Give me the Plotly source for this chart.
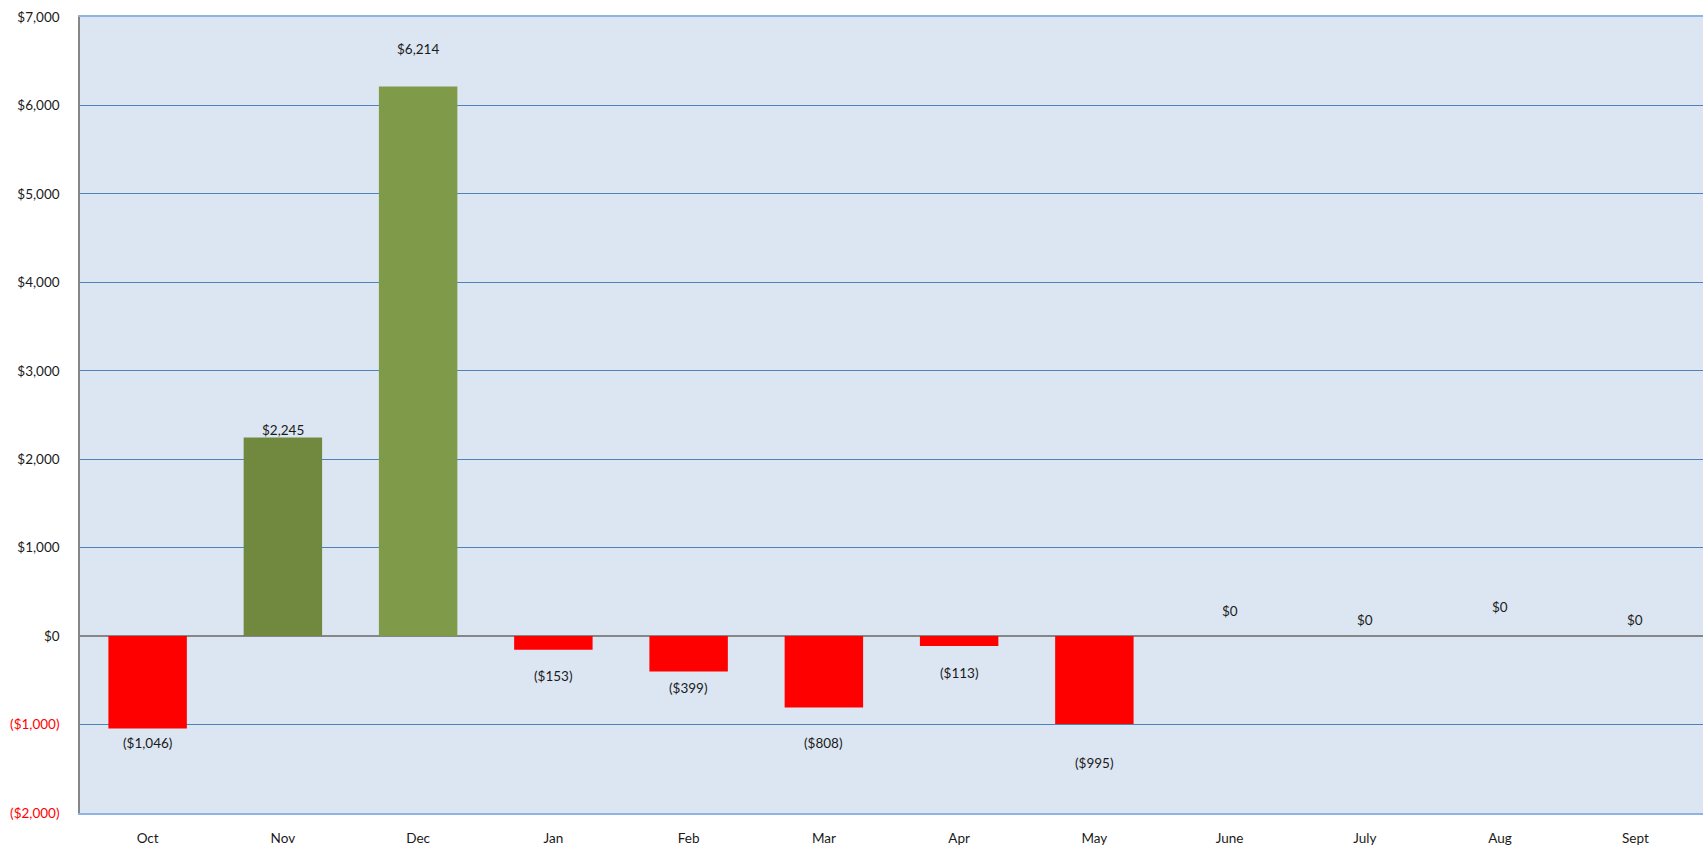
import plotly.graph_objects as go

# Monthly net result, fiscal year Oct -> Sept
months = ["Oct", "Nov", "Dec", "Jan", "Feb", "Mar", "Apr", "May", "June", "July", "Aug", "Sept"]
net = [-1046, 2245, 6214, -153, -399, -808, -113, -995, 0, 0, 0, 0]
bar_colors = ["#FF0000", "#71893F", "#7F9A48", "#FF0000", "#FF0000", "#FF0000",
              "#FF0000", "#FF0000", "#FF0000", "#FF0000", "#FF0000", "#FF0000"]
# vertical offset (px) of each value label from the end of its bar
label_offsets = [14, 8, 38, 26, 17, 35, 27, 39, 25, 16, 29, 16]
y_ticks = [-2000, -1000, 0, 1000, 2000, 3000, 4000, 5000, 6000, 7000]

FONT = "Lato, Calibri, sans-serif"
FONT_SIZE = 13.5


def money(v):
    s = f"${abs(v):,.0f}"
    return f"({s})" if v < 0 else s


def tick_label(v):
    s = money(v)
    return f"<span style='color:#FF0000'>{s}</span>" if v < 0 else s


fig = go.Figure(
    go.Bar(
        x=months,
        y=net,
        marker=dict(color=bar_colors, line=dict(width=0)),
        hoverinfo="x+y",
    )
)

for m, v, off in zip(months, net, label_offsets):
    fig.add_annotation(
        x=m, y=v, text=money(v), showarrow=False,
        yanchor="middle", yshift=off if v >= 0 else -off,
        font=dict(family=FONT, size=FONT_SIZE, color="#1a1a1a"),
    )

fig.update_layout(
    width=1706, height=848,
    margin=dict(l=80, r=3, t=17, b=35),
    paper_bgcolor="white",
    plot_bgcolor="#DCE6F2",
    bargap=0.42,
    showlegend=False,
    font=dict(family=FONT, size=FONT_SIZE, color="#1a1a1a"),
    xaxis=dict(
        type="category",
        showgrid=False,
        showline=True, mirror=True, linecolor="#8EB4E3", linewidth=2,
        ticks="", ticklabelstandoff=12,
        tickfont=dict(family=FONT, size=FONT_SIZE),
        fixedrange=True,
    ),
    yaxis=dict(
        range=[-2000, 7000],
        tickvals=y_ticks,
        ticktext=[tick_label(v) for v in y_ticks],
        showgrid=True, gridcolor="#4F81BD", gridwidth=1,
        zeroline=True, zerolinecolor="#868686", zerolinewidth=1.5,
        showline=True, linecolor="#868686", linewidth=1.5,
        ticks="", ticklabelstandoff=16,
        tickfont=dict(family=FONT, size=FONT_SIZE),
        fixedrange=True,
    ),
)

fig.write_html("out.html")
